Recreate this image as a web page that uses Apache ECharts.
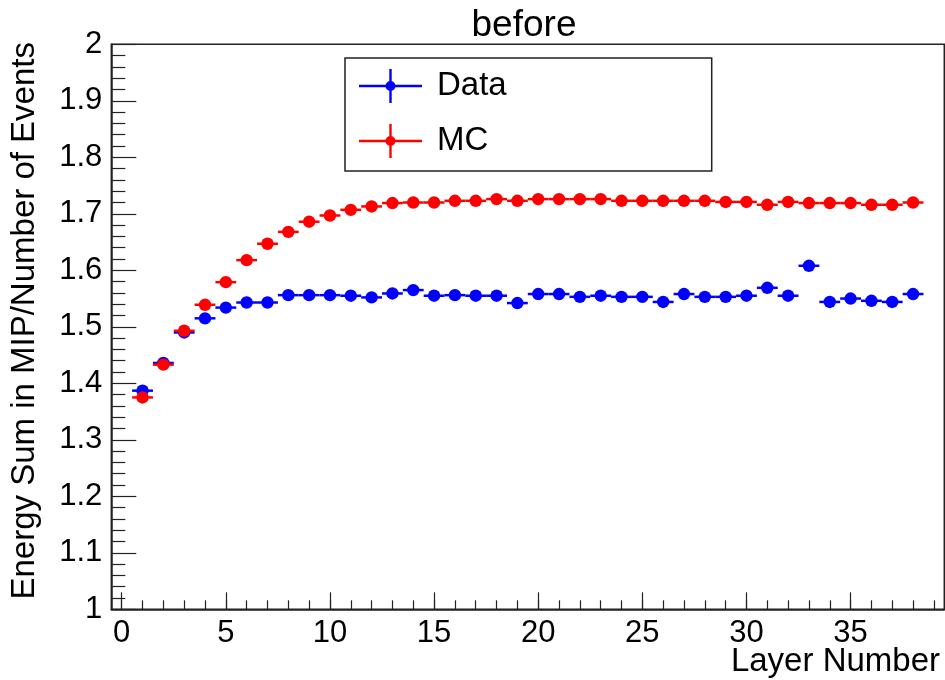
<!DOCTYPE html>
<html>
<head>
<meta charset="utf-8">
<script src="https://cdn.jsdelivr.net/npm/echarts@6/dist/echarts.min.js"></script>
<style>
html,body{margin:0;padding:0;background:#fff;}
#chart{width:945px;height:680px;}
</style>
</head>
<body>
<div id="chart"></div>
<script>
// ---- data ----
var layers = [1,2,3,4,5,6,7,8,9,10,11,12,13,14,15,16,17,18,19,20,21,22,23,24,25,26,27,28,29,30,31,32,33,34,35,36,37,38];
var dataValues = [1.387,1.436,1.490,1.515,1.534,1.543,1.543,1.556,1.556,1.556,1.555,1.552,1.559,1.565,1.555,1.556,1.555,1.555,1.542,1.558,1.558,1.553,1.555,1.553,1.553,1.544,1.558,1.553,1.553,1.555,1.569,1.555,1.608,1.544,1.550,1.546,1.544,1.558];
var mcValues = [1.375,1.433,1.493,1.539,1.579,1.618,1.647,1.668,1.686,1.697,1.707,1.713,1.719,1.720,1.720,1.723,1.723,1.726,1.723,1.726,1.726,1.726,1.726,1.723,1.723,1.723,1.723,1.723,1.721,1.721,1.716,1.721,1.719,1.719,1.719,1.716,1.716,1.720];
var binHalfWidth = 0.5;
var xMajorTicks = [0,5,10,15,20,25,30,35];
var xMinorTicks = [0,1,2,3,4,5,6,7,8,9,10,11,12,13,14,15,16,17,18,19,20,21,22,23,24,25,26,27,28,29,30,31,32,33,34,35,36,37,38,39];
var seriesNames = ['Data','MC'];
var seriesColors = ['#0000ff','#ff0000'];
var titleText = 'before';
var xTitle = 'Layer Number';
var yTitle = 'Energy Sum in MIP/Number of Events';

var FONT = '"Liberation Sans", Arial, Helvetica, sans-serif';

function pairs(vals){ return layers.map(function(x,i){ return [x, vals[i]]; }); }

function makeRender(color){
  return function(params, api){
    var x = api.value(0), y = api.value(1);
    var c = api.coord([x, y]);
    var l = api.coord([x - binHalfWidth, y]);
    var r = api.coord([x + binHalfWidth, y]);
    return {
      type: 'group',
      children: [
        {type:'line', shape:{x1:l[0], y1:c[1], x2:r[0], y2:c[1]}, style:{stroke:color, lineWidth:2.5}},
        {type:'circle', shape:{cx:c[0], cy:c[1], r:6.2}, style:{fill:color}}
      ]
    };
  };
}

var legendIcon = 'path://M0,15.8 L63,15.8 L63,18.2 L0,18.2 Z M30.3,0 L32.7,0 L32.7,34 L30.3,34 Z M26.5,17 A5,5 0 1,1 36.5,17 A5,5 0 1,1 26.5,17 Z';

var chart = echarts.init(document.getElementById('chart'), null, {renderer:'canvas'});
chart.setOption({
  backgroundColor: '#ffffff',
  animation: false,
  textStyle: {fontFamily: FONT},
  title: {
    text: titleText,
    left: 519,
    top: 2,
    textAlign: 'center',
    textStyle: {fontFamily: FONT, fontSize: 37, fontWeight: 'normal', color: '#000'}
  },
  legend: {
    orient: 'vertical',
    left: 345,
    top: 58,
    data: [{name: seriesNames[0], icon: legendIcon}, {name: seriesNames[1], icon: legendIcon}],
    itemWidth: 63,
    itemHeight: 34,
    itemGap: 21,
    padding: [11, 205, 13, 14],
    borderColor: '#222',
    borderWidth: 1.5,
    backgroundColor: '#fff',
    textStyle: {fontFamily: FONT, fontSize: 33, color: '#000', padding: [0,0,0,10]},
    selectedMode: false
  },
  graphic: [
    {
      type: 'text',
      right: 5,
      top: 645,
      style: {text: xTitle, font: '33px ' + FONT, fill: '#000'}
    }
  ],
  grid: {
    left: 111.3, right: 0.7, top: 44.3, bottom: 70.7,
    show: true, borderColor: '#222', borderWidth: 1.5, backgroundColor: 'transparent',
    containLabel: false,
    outerBoundsMode: 'none'
  },
  xAxis: [
    {
      type: 'value', min: -0.5, max: 39.5, position: 'bottom',
      axisLine: {show: true, onZero: false, lineStyle: {color: '#222', width: 1.5}},
      splitLine: {show: false},
      axisTick: {show: true, inside: true, length: 17, customValues: xMajorTicks, lineStyle: {color: '#222', width: 1.2}},
      axisLabel: {show: true, customValues: xMajorTicks, fontFamily: FONT, fontSize: 31, color: '#000', margin: 9}
    },
    {
      type: 'value', min: -0.5, max: 39.5, position: 'bottom', gridIndex: 0,
      axisLine: {show: false, onZero: false},
      splitLine: {show: false},
      axisTick: {show: true, inside: true, length: 9, customValues: xMinorTicks, lineStyle: {color: '#222', width: 1.2}},
      axisLabel: {show: false}
    }
  ],
  yAxis: {
    type: 'value', min: 1, max: 2, interval: 0.1,
    axisLine: {show: true, onZero: false, lineStyle: {color: '#222', width: 1.5}},
    splitLine: {show: false},
    axisTick: {show: true, inside: true, length: 25, lineStyle: {color: '#222', width: 1.2}},
    minorTick: {show: true, splitNumber: 5, length: 14, lineStyle: {color: '#222', width: 1.2}},
    axisLabel: {fontFamily: FONT, fontSize: 31, color: '#000', margin: 9, showMinLabel: true, showMaxLabel: true},
    name: yTitle,
    nameLocation: 'middle',
    nameRotate: 90,
    nameGap: 70,
    nameTextStyle: {fontFamily: FONT, fontSize: 33, color: '#000', padding: [0,0,0,12]}
  },
  series: [
    {
      name: seriesNames[0], type: 'custom', xAxisIndex: 0, yAxisIndex: 0,
      itemStyle: {color: seriesColors[0]},
      renderItem: makeRender(seriesColors[0]),
      encode: {x: 0, y: 1},
      data: pairs(dataValues)
    },
    {
      name: seriesNames[1], type: 'custom', xAxisIndex: 0, yAxisIndex: 0,
      itemStyle: {color: seriesColors[1]},
      renderItem: makeRender(seriesColors[1]),
      encode: {x: 0, y: 1},
      data: pairs(mcValues)
    }
  ]
});
</script>
</body>
</html>
